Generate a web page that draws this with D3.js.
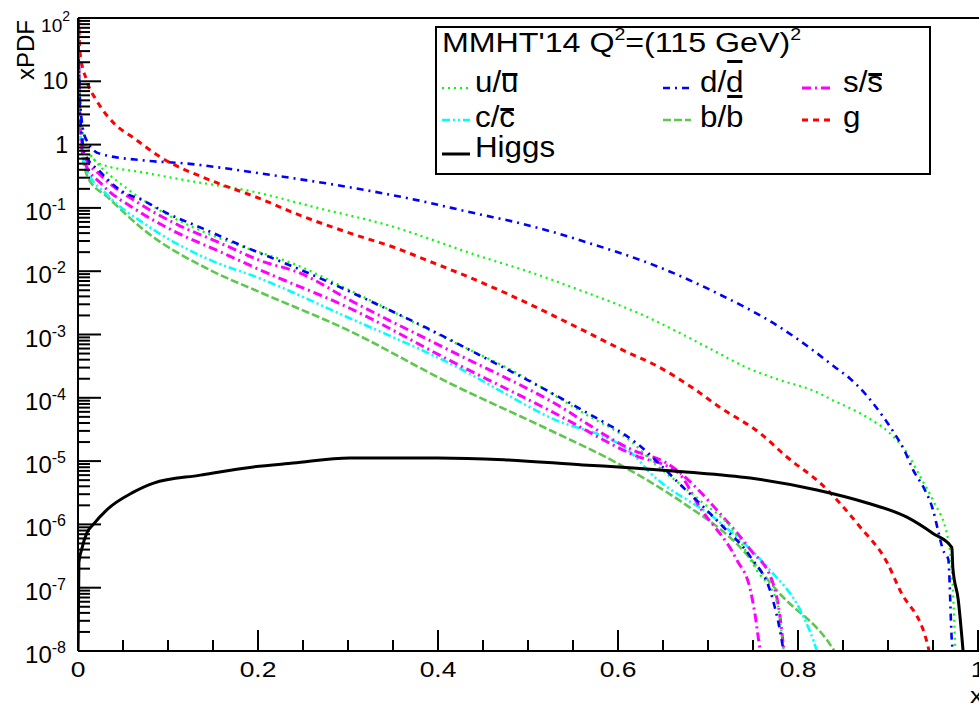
<!DOCTYPE html>
<html>
<head>
<meta charset="utf-8">
<script src="https://cdn.jsdelivr.net/npm/d3@7"></script>
<style>
  body { margin: 0; background: #fff; }
  text { font-family: "Liberation Sans", Arial, Helvetica, sans-serif; fill: #000; }
</style>
</head>
<body>
<div id="chart"></div>
<script>
// values (MMHT'14, Q^2 = (115 GeV)^2)
var uX = [0.0003, 0.001, 0.003, 0.008, 0.024, 0.074, 0.122, 0.195, 0.266, 0.339, 0.45, 0.506, 0.558, 0.594, 0.632, 0.669, 0.706, 0.743, 0.78, 0.817, 0.839, 0.876, 0.902, 0.921, 0.936, 0.95, 0.967, 0.972, 0.975];
var uY = [79, 20, 3.2, 1.12, 0.5, 0.36, 0.27, 0.18, 0.10, 0.056, 0.0166, 0.0093, 0.0050, 0.0032, 0.0019, 0.00105, 5.6e-4, 3.0e-4, 1.9e-4, 1.3e-4, 9.1e-5, 5.0e-5, 2.75e-5, 1.35e-5, 5.6e-6, 2.4e-6, 5.6e-7, 1e-7, 8e-9];

var ubarX = [0.0003, 0.001, 0.003, 0.008, 0.017, 0.054, 0.091, 0.136, 0.188, 0.239, 0.302, 0.413, 0.488, 0.561, 0.617, 0.636, 0.691, 0.728, 0.754, 0.777, 0.783, 0.785];
var ubarY = [79, 16, 2.5, 0.89, 0.60, 0.204, 0.091, 0.044, 0.023, 0.0132, 5.0e-3, 8.1e-4, 2.45e-4, 5.8e-5, 1.9e-5, 1.05e-5, 2.4e-6, 8.1e-7, 1.9e-7, 5.8e-8, 1.35e-8, 8e-9];

var dX = [0.0003, 0.001, 0.003, 0.008, 0.024, 0.074, 0.122, 0.17, 0.197, 0.295, 0.369, 0.443, 0.494, 0.569, 0.643, 0.71, 0.78, 0.817, 0.839, 0.858, 0.876, 0.891, 0.906, 0.918, 0.928, 0.941, 0.95, 0.956, 0.961, 0.967, 0.971, 0.973];
var dY = [90, 16, 3.5, 1.3, 0.72, 0.56, 0.50, 0.41, 0.36, 0.22, 0.14, 0.081, 0.056, 0.0275, 0.012, 0.0045, 0.0013, 5.6e-4, 3.2e-4, 2.0e-4, 1.1e-4, 5.9e-5, 2.9e-5, 1.5e-5, 7.2e-6, 3.5e-6, 1.7e-6, 7.6e-7, 4.0e-7, 2.8e-7, 1.4e-8, 8e-9];

var dbarX = [0.0003, 0.001, 0.003, 0.008, 0.024, 0.048, 0.072, 0.097, 0.139, 0.186, 0.236, 0.28, 0.328, 0.391, 0.443, 0.506, 0.561, 0.621, 0.672, 0.717, 0.747, 0.772, 0.78, 0.785];
var dbarY = [79, 16, 2.2, 0.71, 0.38, 0.186, 0.132, 0.085, 0.047, 0.024, 0.0123, 6.6e-3, 3.2e-3, 1.2e-3, 5.0e-4, 1.7e-4, 6.3e-5, 1.9e-5, 3.9e-6, 9.1e-7, 3.1e-7, 6.5e-8, 2.1e-8, 8e-9];

var sX = [0.0003, 0.001, 0.003, 0.008, 0.026, 0.067, 0.111, 0.159, 0.202, 0.247, 0.302, 0.413, 0.524, 0.617, 0.654, 0.717, 0.747, 0.772, 0.78, 0.785];
var sY = [79, 12.6, 1.8, 0.63, 0.32, 0.12, 0.054, 0.0275, 0.0148, 9.3e-3, 3.5e-3, 5.6e-4, 9.1e-5, 1.48e-5, 9.3e-6, 1.3e-6, 4.0e-7, 1.2e-7, 3.5e-8, 8e-9];

var sbarX = [0.0003, 0.001, 0.003, 0.008, 0.026, 0.067, 0.111, 0.159, 0.199, 0.302, 0.413, 0.524, 0.617, 0.667, 0.691, 0.732, 0.747, 0.752, 0.758, 0.76];
var sbarY = [63, 10, 1.4, 0.5, 0.24, 0.089, 0.04, 0.02, 0.011, 2.6e-3, 3.9e-4, 6.3e-5, 1.26e-5, 6.5e-6, 1.86e-6, 2.75e-7, 9.3e-8, 4.0e-8, 1.05e-8, 8e-9];

var cX = [0.0003, 0.001, 0.003, 0.008, 0.033, 0.074, 0.148, 0.2, 0.3, 0.413, 0.524, 0.617, 0.636, 0.71, 0.766, 0.806, 0.821, 0.823];
var cY = [63, 10, 1.26, 0.45, 0.158, 0.056, 0.0148, 7.9e-3, 1.86e-3, 3.5e-4, 4.9e-5, 1.26e-5, 6.5e-6, 1.17e-6, 2.1e-7, 3.5e-8, 1.0e-8, 8e-9];

var bX = [0.0003, 0.001, 0.003, 0.011, 0.033, 0.074, 0.148, 0.2, 0.3, 0.413, 0.524, 0.599, 0.672, 0.728, 0.783, 0.832, 0.845];
var bY = [50, 7.9, 1.26, 0.30, 0.148, 0.044, 0.0102, 4.8e-3, 1.17e-3, 1.7e-4, 3.1e-5, 9.3e-6, 2.2e-6, 5.6e-7, 7.2e-8, 1.5e-8, 8e-9];

var gX = [0.0008, 0.002, 0.01, 0.021, 0.041, 0.061, 0.092, 0.148, 0.198, 0.247, 0.302, 0.354, 0.388, 0.436, 0.48, 0.561, 0.606, 0.643, 0.684, 0.713, 0.758, 0.788, 0.827, 0.869, 0.899, 0.913, 0.944, 0.947];
var gY = [100, 30, 10, 4.9, 2.1, 1.3, 0.63, 0.27, 0.148, 0.076, 0.040, 0.023, 0.0148, 0.0079, 0.0042, 1.17e-3, 5.6e-4, 3.2e-4, 1.4e-4, 7.1e-5, 2.75e-5, 1.15e-5, 4.2e-6, 9.1e-7, 2.5e-7, 9.3e-8, 1.26e-8, 8e-9];

var higgsX = [0.0, 0.001, 0.004, 0.01, 0.017, 0.032, 0.061, 0.084, 0.136, 0.195, 0.239, 0.302, 0.4, 0.473, 0.561, 0.617, 0.672, 0.747, 0.821, 0.876, 0.921, 0.95, 0.971, 0.972, 0.978, 0.984];
var higgsY = [8e-9, 2.5e-7, 4.0e-7, 7.4e-7, 1.0e-6, 1.7e-6, 3.2e-6, 4.5e-6, 6.0e-6, 8.1e-6, 9.3e-6, 1.12e-5, 1.12e-5, 1.05e-5, 8.7e-6, 7.8e-6, 6.8e-6, 5.4e-6, 3.5e-6, 2.2e-6, 1.3e-6, 7.2e-7, 4.3e-7, 2.1e-7, 6.5e-8, 8e-9];

var xTickLabels = ["0", "0.2", "0.4", "0.6", "0.8", "1"];
var legendTitle = "MMHT'14";

(function() {
  var W = 979, H = 706;
  var left = 78, right = 978, top = 18, bottom = 651;

  var svg = d3.select("#chart").append("svg")
    .attr("width", W)
    .attr("height", H);

  var x = d3.scaleLinear().domain([0, 1]).range([left, right]);
  var y = d3.scaleLog().domain([1e-8, 1e2]).range([bottom, top]);

  var styles = {
    u:     {color: "#00ff00", dash: "2,4",          width: 2.2},
    d:     {color: "#0000ff", dash: "7,5,2,5",      width: 2.6},
    s:     {color: "#ff00ff", dash: "9,4,2,4",      width: 3},
    c:     {color: "#00ffff", dash: "8,3,2,3,2,3",  width: 2.6},
    b:     {color: "#5ec84e", dash: "8,3",          width: 2.6},
    g:     {color: "#ff0000", dash: "6,5",          width: 3},
    higgs: {color: "#000000", dash: null,           width: 3}
  };

  var series = [
    {key: "b", xs: bX, ys: bY},
    {key: "c", xs: cX, ys: cY},
    {key: "s", xs: sbarX, ys: sbarY},
    {key: "s", xs: sX, ys: sY},
    {key: "u", xs: ubarX, ys: ubarY},
    {key: "u", xs: uX, ys: uY},
    {key: "d", xs: dbarX, ys: dbarY},
    {key: "d", xs: dX, ys: dY},
    {key: "g", xs: gX, ys: gY},
    {key: "higgs", xs: higgsX, ys: higgsY}
  ];

  svg.append("clipPath").attr("id", "plotclip")
    .append("rect")
    .attr("x", left).attr("y", top)
    .attr("width", W - left).attr("height", bottom - top);

  var line = d3.line()
    .x(function(d) { return x(d[0]); })
    .y(function(d) { return y(d[1]); })
    .curve(d3.curveMonotoneX);

  var gLines = svg.append("g").attr("clip-path", "url(#plotclip)");
  series.forEach(function(s) {
    var st = styles[s.key];
    var pts = s.xs.map(function(v, i) { return [v, s.ys[i]]; });
    gLines.append("path")
      .datum(pts)
      .attr("d", line)
      .attr("fill", "none")
      .attr("stroke", st.color)
      .attr("stroke-width", st.width)
      .attr("stroke-dasharray", st.dash)
      .attr("stroke-linejoin", "round");
  });

  // frame: left axis, bottom axis, top line
  var frame = svg.append("g").attr("stroke", "#000").attr("stroke-width", 2);
  frame.append("line").attr("x1", left).attr("x2", left).attr("y1", top).attr("y2", bottom);
  frame.append("line").attr("x1", left).attr("x2", W).attr("y1", bottom).attr("y2", bottom);
  frame.append("line").attr("x1", left).attr("x2", W).attr("y1", top).attr("y2", top);

  // stretched text helper (the reference is horizontally stretched)
  function stext(parent, px, py, size, sx, anchor) {
    var g = parent.append("g").attr("transform", "translate(" + px + "," + py + ") scale(" + sx + ",1)");
    var t = g.append("text").attr("x", 0).attr("y", 0)
      .attr("font-size", size)
      .attr("text-anchor", anchor || "start");
    return t;
  }

  // x ticks
  var xMajor = d3.range(0, 1.0001, 0.2);
  var xMinor = d3.range(0, 1.0001, 0.05);
  frame.selectAll(".xminor").data(xMinor).enter().append("line")
    .attr("x1", function(d) { return x(d); }).attr("x2", function(d) { return x(d); })
    .attr("y1", bottom).attr("y2", bottom - 11);
  frame.selectAll(".xmajor").data(xMajor).enter().append("line")
    .attr("x1", function(d) { return x(d); }).attr("x2", function(d) { return x(d); })
    .attr("y1", bottom).attr("y2", bottom - 21);
  xMajor.forEach(function(v, i) {
    stext(svg, x(v), 677, 22, 1.2, "middle").text(xTickLabels[i]);
  });
  stext(svg, 970, 703, 22, 1.2, "start").text("x");

  // y ticks
  var decades = d3.range(-8, 3);
  var yMinor = [];
  decades.forEach(function(e) {
    if (e < 2) {
      for (var k = 2; k <= 9; k++) yMinor.push(k * Math.pow(10, e));
    }
  });
  frame.selectAll(".yminor").data(yMinor).enter().append("line")
    .attr("x1", left).attr("x2", left + 12)
    .attr("y1", function(d) { return y(d); }).attr("y2", function(d) { return y(d); });
  frame.selectAll(".ymajor").data(decades).enter().append("line")
    .attr("x1", left).attr("x2", left + 23)
    .attr("y1", function(d) { return y(Math.pow(10, d)); }).attr("y2", function(d) { return y(Math.pow(10, d)); });

  decades.forEach(function(e) {
    var ty = y(Math.pow(10, e));
    if (e === 0 || e === 1) {
      stext(svg, 68, ty + 8, 23, 1.0, "end").text(e === 0 ? "1" : "10");
    } else if (e === 2) {
      var t2 = stext(svg, 70, 32, 19, 1.0, "end");
      t2.append("tspan").text("10");
      t2.append("tspan").attr("dy", -11).attr("font-size", 14).text("2");
    } else {
      var t = stext(svg, 66, ty + 12, 24, 1.0, "end");
      t.append("tspan").text("10");
      t.append("tspan").attr("dy", -10).attr("font-size", 16).text(String(e));
    }
  });

  // y title
  svg.append("text")
    .attr("transform", "translate(34,20) rotate(-90)")
    .attr("text-anchor", "end")
    .attr("font-size", 24)
    .text("xPDF");

  // legend
  var lg = svg.append("g");
  lg.append("rect")
    .attr("x", 436).attr("y", 27)
    .attr("width", 494).attr("height", 147)
    .attr("fill", "#fff")
    .attr("stroke", "#000")
    .attr("stroke-width", 2);

  var head = stext(lg, 442, 52, 28, 1.15, "start");
  head.append("tspan").text(legendTitle + " Q");
  head.append("tspan").attr("dy", -12).attr("font-size", 17).text("2");
  head.append("tspan").attr("dy", 12).text("=(115 GeV)");
  head.append("tspan").attr("dy", -12).attr("font-size", 17).text("2");

  var legendItems = [
    {key: "u", base: "u/", bar: "u", tall: false, col: 0, row: 0},
    {key: "d", base: "d/", bar: "d", tall: true,  col: 1, row: 0},
    {key: "s", base: "s/", bar: "s", tall: false, col: 2, row: 0},
    {key: "c", base: "c/", bar: "c", tall: false, col: 0, row: 1},
    {key: "b", base: "b/", bar: "b", tall: true,  col: 1, row: 1},
    {key: "g", base: "g",  bar: null, tall: false, col: 2, row: 1},
    {key: "higgs", base: "Higgs", bar: null, tall: false, col: 0, row: 2}
  ];
  var colLine = [442, 663, 802];
  var colText = [475, 700, 843];
  var rowLineY = [88, 120, 154];
  var rowBase = [92, 127, 157];

  legendItems.forEach(function(it) {
    var st = styles[it.key];
    var ly = rowLineY[it.row];
    lg.append("line")
      .attr("x1", colLine[it.col]).attr("x2", colLine[it.col] + 28)
      .attr("y1", ly).attr("y2", ly)
      .attr("stroke", st.color)
      .attr("stroke-width", st.width)
      .attr("stroke-dasharray", st.dash);
    var t = stext(lg, colText[it.col], rowBase[it.row], 29, 1.08, "start");
    t.text(it.base + (it.bar || ""));
    if (it.bar) {
      var idx = it.base.length;
      var ext = t.node().getExtentOfChar(idx);
      var by = it.tall ? -32 : -19;
      d3.select(t.node().parentNode).append("rect")
        .attr("x", ext.x + 1).attr("y", by)
        .attr("width", ext.width - 2).attr("height", 3)
        .attr("fill", "#000");
    }
  });
})();
</script>
</body>
</html>
